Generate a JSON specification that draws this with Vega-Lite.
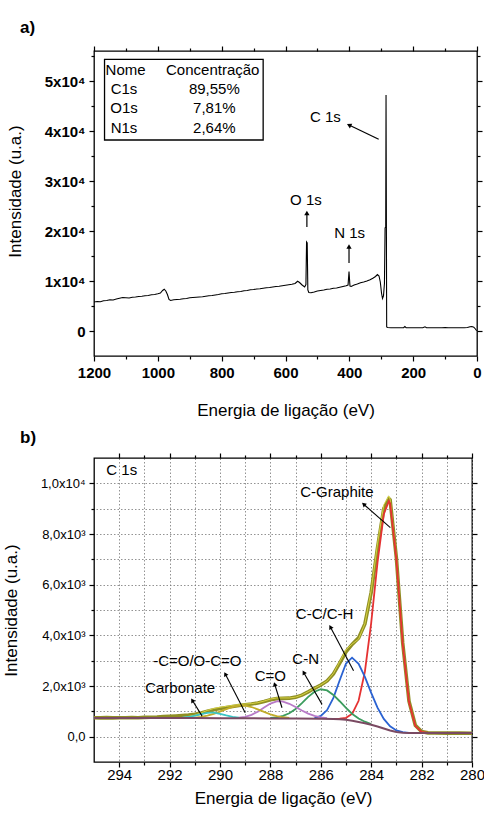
{
  "$schema": "https://vega.github.io/schema/vega-lite/v6.json",
  "padding": {"left": 1, "top": 18, "right": 0, "bottom": 0},
  "spacing": 9,
  "config": {
    "font": "Liberation Sans",
    "view": {"stroke": "black", "strokeWidth": 1.3},
    "axis": {"domain": false, "tickColor": "black", "labelColor": "black", "titleColor": "black", "tickWidth": 1.2, "labelPadding": 4, "titleFontWeight": "normal", "titleFontSize": 17, "grid": false},
    "title": {"fontSize": 17, "fontWeight": "bold", "anchor": "start", "color": "black"},
    "text": {"font": "Liberation Sans", "fontSize": 15, "color": "black"}
  },
  "datasets": {
    "survey": [
      {"E":1200,"I":5800},{"E":1190,"I":5900},{"E":1180,"I":5850},{"E":1170,"I":6050},{"E":1160,"I":6100},{"E":1150,"I":6250},{"E":1140,"I":6200},{"E":1130,"I":6400},{"E":1120,"I":6550},{"E":1110,"I":6700},{"E":1100,"I":6650},{"E":1090,"I":6600},{"E":1080,"I":6750},{"E":1070,"I":6800},{"E":1060,"I":6900},{"E":1050,"I":6950},{"E":1040,"I":7050},{"E":1030,"I":7100},{"E":1020,"I":7250},{"E":1010,"I":7300},{"E":1000,"I":7450},{"E":992,"I":7600},{"E":985,"I":8100},{"E":980,"I":8350},{"E":975,"I":8000},{"E":970,"I":7300},{"E":965,"I":6300},{"E":960,"I":6100},{"E":950,"I":6250},{"E":940,"I":6300},{"E":930,"I":6350},{"E":920,"I":6450},{"E":910,"I":6500},{"E":900,"I":6650},{"E":890,"I":6700},{"E":880,"I":6750},{"E":870,"I":6800},{"E":860,"I":6850},{"E":850,"I":6950},{"E":840,"I":7050},{"E":830,"I":7100},{"E":820,"I":7200},{"E":810,"I":7300},{"E":800,"I":7450},{"E":790,"I":7500},{"E":780,"I":7600},{"E":770,"I":7700},{"E":760,"I":7750},{"E":750,"I":7850},{"E":740,"I":7900},{"E":730,"I":8050},{"E":720,"I":8100},{"E":710,"I":8250},{"E":700,"I":8300},{"E":690,"I":8400},{"E":680,"I":8450},{"E":670,"I":8550},{"E":660,"I":8650},{"E":650,"I":8700},{"E":640,"I":8800},{"E":630,"I":8900},{"E":620,"I":8950},{"E":610,"I":9050},{"E":600,"I":9150},{"E":590,"I":9250},{"E":580,"I":9350},{"E":570,"I":9500},{"E":562,"I":9950},{"E":556,"I":9700},{"E":548,"I":9200},{"E":540,"I":8800},{"E":536,"I":9300},{"E":534,"I":17800},{"E":532,"I":17600},{"E":530,"I":8200},{"E":527,"I":7700},{"E":520,"I":7650},{"E":510,"I":7800},{"E":500,"I":8000},{"E":490,"I":8100},{"E":480,"I":8200},{"E":470,"I":8350},{"E":460,"I":8400},{"E":450,"I":8550},{"E":440,"I":8600},{"E":430,"I":8750},{"E":420,"I":8900},{"E":410,"I":9050},{"E":404,"I":9200},{"E":401,"I":11900},{"E":398,"I":9000},{"E":394,"I":8900},{"E":385,"I":9200},{"E":375,"I":9400},{"E":365,"I":9650},{"E":355,"I":9800},{"E":345,"I":10000},{"E":335,"I":10250},{"E":325,"I":10600},{"E":318,"I":10900},{"E":312,"I":11300},{"E":307,"I":11000},{"E":303,"I":9800},{"E":299,"I":7500},{"E":296,"I":6500},{"E":293,"I":7000},{"E":290,"I":9500},{"E":288,"I":20600},{"E":286,"I":20800},{"E":285,"I":47200},{"E":283,"I":800},{"E":280,"I":700},{"E":270,"I":650},{"E":260,"I":660},{"E":250,"I":640},{"E":240,"I":650},{"E":230,"I":660},{"E":226,"I":900},{"E":222,"I":660},{"E":210,"I":650},{"E":200,"I":650},{"E":190,"I":660},{"E":180,"I":650},{"E":170,"I":650},{"E":163,"I":850},{"E":158,"I":660},{"E":150,"I":650},{"E":140,"I":660},{"E":130,"I":650},{"E":120,"I":660},{"E":110,"I":650},{"E":100,"I":700},{"E":90,"I":660},{"E":80,"I":650},{"E":70,"I":660},{"E":60,"I":650},{"E":50,"I":660},{"E":40,"I":650},{"E":30,"I":700},{"E":22,"I":850},{"E":16,"I":900},{"E":10,"I":750},{"E":5,"I":400},{"E":1,"I":50}
    ],
    "tableBox": [{"E1": 1167, "E2": 670, "I1": 54340, "I2": 38200}],
    "tableText": [
      {"name": "Nome", "val": "Concentração", "En": 1101, "Ev": 828, "I": 52200},
      {"name": "C1s", "val": "89,55%", "En": 1106, "Ev": 823, "I": 48340},
      {"name": "O1s", "val": "7,81%", "En": 1106, "Ev": 823, "I": 44540},
      {"name": "N1s", "val": "2,64%", "En": 1106, "Ev": 823, "I": 40540}
    ],
    "labelsA": [
      {"text": "C 1s", "E": 475, "I": 42860},
      {"text": "O 1s", "E": 536, "I": 26200},
      {"text": "N 1s", "E": 399, "I": 19540}
    ],
    "arrowsA": [
      {"E1": 308, "I1": 38340, "E2": 401, "I2": 41200, "angle": 296},
      {"E1": 533, "I1": 20800, "E2": 533, "I2": 23600, "angle": 0},
      {"E1": 401, "I1": 13600, "E2": 401, "I2": 16900, "angle": 0}
    ],
    "xps": [
      {"comp":"Exp","E":295,"I":745},{"comp":"Exp","E":294.75,"I":740},{"comp":"Exp","E":294.5,"I":750},{"comp":"Exp","E":294.25,"I":742},{"comp":"Exp","E":294,"I":748},{"comp":"Exp","E":293.75,"I":745},{"comp":"Exp","E":293.5,"I":752},{"comp":"Exp","E":293.25,"I":748},{"comp":"Exp","E":293,"I":760},{"comp":"Exp","E":292.75,"I":768},{"comp":"Exp","E":292.5,"I":775},{"comp":"Exp","E":292.25,"I":790},{"comp":"Exp","E":292,"I":800},{"comp":"Exp","E":291.75,"I":815},{"comp":"Exp","E":291.5,"I":830},{"comp":"Exp","E":291.25,"I":850},{"comp":"Exp","E":291,"I":880},{"comp":"Exp","E":290.75,"I":930},{"comp":"Exp","E":290.5,"I":1000},{"comp":"Exp","E":290.25,"I":1060},{"comp":"Exp","E":290,"I":1110},{"comp":"Exp","E":289.75,"I":1150},{"comp":"Exp","E":289.5,"I":1190},{"comp":"Exp","E":289.25,"I":1230},{"comp":"Exp","E":289,"I":1260},{"comp":"Exp","E":288.75,"I":1290},{"comp":"Exp","E":288.5,"I":1330},{"comp":"Exp","E":288.25,"I":1390},{"comp":"Exp","E":288,"I":1460},{"comp":"Exp","E":287.75,"I":1500},{"comp":"Exp","E":287.5,"I":1510},{"comp":"Exp","E":287.25,"I":1520},{"comp":"Exp","E":287,"I":1560},{"comp":"Exp","E":286.75,"I":1640},{"comp":"Exp","E":286.5,"I":1770},{"comp":"Exp","E":286.25,"I":1910},{"comp":"Exp","E":286,"I":2040},{"comp":"Exp","E":285.75,"I":2200},{"comp":"Exp","E":285.5,"I":2480},{"comp":"Exp","E":285.25,"I":2900},{"comp":"Exp","E":285,"I":3350},{"comp":"Exp","E":284.75,"I":3650},{"comp":"Exp","E":284.5,"I":3900},{"comp":"Exp","E":284.25,"I":4450},{"comp":"Exp","E":284,"I":5700},{"comp":"Exp","E":283.75,"I":7450},{"comp":"Exp","E":283.5,"I":9000},{"comp":"Exp","E":283.3,"I":9400},{"comp":"Exp","E":283.25,"I":9350},{"comp":"Exp","E":283,"I":7050},{"comp":"Exp","E":282.75,"I":3700},{"comp":"Exp","E":282.5,"I":1400},{"comp":"Exp","E":282.25,"I":450},{"comp":"Exp","E":282,"I":200},{"comp":"Exp","E":281.75,"I":150},{"comp":"Exp","E":281.5,"I":145},{"comp":"Exp","E":281,"I":140},{"comp":"Exp","E":280.5,"I":140},{"comp":"Exp","E":280,"I":135},
      {"comp":"Fit","E":295,"I":740},{"comp":"Fit","E":294,"I":738},{"comp":"Fit","E":293,"I":736},{"comp":"Fit","E":292,"I":735},{"comp":"Fit","E":291.5,"I":752},{"comp":"Fit","E":291,"I":849},{"comp":"Fit","E":290.75,"I":940},{"comp":"Fit","E":290.5,"I":1036},{"comp":"Fit","E":290.25,"I":1112},{"comp":"Fit","E":290,"I":1160},{"comp":"Fit","E":289.75,"I":1195},{"comp":"Fit","E":289.5,"I":1234},{"comp":"Fit","E":289.25,"I":1266},{"comp":"Fit","E":289,"I":1290},{"comp":"Fit","E":288.75,"I":1305},{"comp":"Fit","E":288.5,"I":1341},{"comp":"Fit","E":288.25,"I":1406},{"comp":"Fit","E":288,"I":1485},{"comp":"Fit","E":287.75,"I":1530},{"comp":"Fit","E":287.5,"I":1530},{"comp":"Fit","E":287.25,"I":1528},{"comp":"Fit","E":287,"I":1561},{"comp":"Fit","E":286.75,"I":1645},{"comp":"Fit","E":286.5,"I":1776},{"comp":"Fit","E":286.25,"I":1916},{"comp":"Fit","E":286,"I":2044},{"comp":"Fit","E":285.75,"I":2201},{"comp":"Fit","E":285.5,"I":2494},{"comp":"Fit","E":285.25,"I":2956},{"comp":"Fit","E":285,"I":3431},{"comp":"Fit","E":284.75,"I":3664},{"comp":"Fit","E":284.5,"I":3852},{"comp":"Fit","E":284.25,"I":4458},{"comp":"Fit","E":284,"I":5774},{"comp":"Fit","E":283.75,"I":7611},{"comp":"Fit","E":283.5,"I":9160},{"comp":"Fit","E":283.3,"I":9500},{"comp":"Fit","E":283.25,"I":9382},{"comp":"Fit","E":283,"I":7073},{"comp":"Fit","E":282.75,"I":3689},{"comp":"Fit","E":282.5,"I":1373},{"comp":"Fit","E":282.25,"I":430},{"comp":"Fit","E":282,"I":186},{"comp":"Fit","E":281.75,"I":145},{"comp":"Fit","E":281,"I":140},{"comp":"Fit","E":280,"I":140},
      {"comp":"C-Graphite","E":285.5,"I":700},{"comp":"C-Graphite","E":285.25,"I":707},{"comp":"C-Graphite","E":285,"I":746},{"comp":"C-Graphite","E":284.75,"I":905},{"comp":"C-Graphite","E":284.5,"I":1417},{"comp":"C-Graphite","E":284.25,"I":2567},{"comp":"C-Graphite","E":284,"I":4493},{"comp":"C-Graphite","E":283.75,"I":6866},{"comp":"C-Graphite","E":283.5,"I":8780},{"comp":"C-Graphite","E":283.3,"I":9300},{"comp":"C-Graphite","E":283.25,"I":9215},{"comp":"C-Graphite","E":283,"I":7010},{"comp":"C-Graphite","E":282.75,"I":3668},{"comp":"C-Graphite","E":282.5,"I":1368},{"comp":"C-Graphite","E":282.25,"I":430},{"comp":"C-Graphite","E":282,"I":186},{"comp":"C-Graphite","E":281.75,"I":145},{"comp":"C-Graphite","E":281.5,"I":140},
      {"comp":"C-C/C-H","E":286.25,"I":732},{"comp":"C-C/C-H","E":286,"I":820},{"comp":"C-C/C-H","E":285.75,"I":1051},{"comp":"C-C/C-H","E":285.5,"I":1530},{"comp":"C-C/C-H","E":285.25,"I":2229},{"comp":"C-C/C-H","E":285,"I":2889},{"comp":"C-C/C-H","E":284.76,"I":3117},{"comp":"C-C/C-H","E":284.5,"I":2878},{"comp":"C-C/C-H","E":284.25,"I":2360},{"comp":"C-C/C-H","E":284,"I":1727},{"comp":"C-C/C-H","E":283.75,"I":1145},{"comp":"C-C/C-H","E":283.5,"I":700},{"comp":"C-C/C-H","E":283.25,"I":412},{"comp":"C-C/C-H","E":283,"I":248},{"comp":"C-C/C-H","E":282.75,"I":176},{"comp":"C-C/C-H","E":282.5,"I":150},
      {"comp":"C-N","E":288,"I":738},{"comp":"C-N","E":287.75,"I":763},{"comp":"C-N","E":287.5,"I":819},{"comp":"C-N","E":287.25,"I":925},{"comp":"C-N","E":287,"I":1095},{"comp":"C-N","E":286.75,"I":1321},{"comp":"C-N","E":286.5,"I":1569},{"comp":"C-N","E":286.25,"I":1774},{"comp":"C-N","E":286,"I":1872},{"comp":"C-N","E":285.75,"I":1824},{"comp":"C-N","E":285.5,"I":1648},{"comp":"C-N","E":285.25,"I":1398},{"comp":"C-N","E":285,"I":1136},{"comp":"C-N","E":284.75,"I":894},{"comp":"C-N","E":284.5,"I":717},{"comp":"C-N","E":284.25,"I":591},{"comp":"C-N","E":284,"I":494},
      {"comp":"C=O","E":289.25,"I":747},{"comp":"C=O","E":289,"I":785},{"comp":"C=O","E":288.75,"I":861},{"comp":"C=O","E":288.5,"I":986},{"comp":"C=O","E":288.25,"I":1149},{"comp":"C=O","E":288,"I":1307},{"comp":"C=O","E":287.75,"I":1394},{"comp":"C=O","E":287.67,"I":1400},{"comp":"C=O","E":287.5,"I":1381},{"comp":"C=O","E":287.25,"I":1297},{"comp":"C=O","E":287,"I":1171},{"comp":"C=O","E":286.75,"I":1033},{"comp":"C=O","E":286.5,"I":911},{"comp":"C=O","E":286.25,"I":820},{"comp":"C=O","E":286,"I":762},{"comp":"C=O","E":285.75,"I":727},
      {"comp":"-C=O/O-C=O","E":291,"I":755},{"comp":"-C=O/O-C=O","E":290.75,"I":780},{"comp":"-C=O/O-C=O","E":290.5,"I":826},{"comp":"-C=O/O-C=O","E":290.25,"I":896},{"comp":"-C=O/O-C=O","E":290,"I":988},{"comp":"-C=O/O-C=O","E":289.75,"I":1088},{"comp":"-C=O/O-C=O","E":289.5,"I":1175},{"comp":"-C=O/O-C=O","E":289.25,"I":1225},{"comp":"-C=O/O-C=O","E":289.13,"I":1232},{"comp":"-C=O/O-C=O","E":289,"I":1224},{"comp":"-C=O/O-C=O","E":288.75,"I":1170},{"comp":"-C=O/O-C=O","E":288.5,"I":1080},{"comp":"-C=O/O-C=O","E":288.25,"I":977},{"comp":"-C=O/O-C=O","E":288,"I":884},{"comp":"-C=O/O-C=O","E":287.75,"I":813},{"comp":"-C=O/O-C=O","E":287.5,"I":766},{"comp":"-C=O/O-C=O","E":287.25,"I":738},
      {"comp":"Carbonate","E":291.5,"I":749},{"comp":"Carbonate","E":291.25,"I":776},{"comp":"Carbonate","E":291,"I":826},{"comp":"Carbonate","E":290.75,"I":891},{"comp":"Carbonate","E":290.5,"I":941},{"comp":"Carbonate","E":290.35,"I":951},{"comp":"Carbonate","E":290.25,"I":946},{"comp":"Carbonate","E":290,"I":902},{"comp":"Carbonate","E":289.75,"I":836},{"comp":"Carbonate","E":289.5,"I":780},{"comp":"Carbonate","E":289.25,"I":747},
      {"comp":"Background","E":295,"I":740},{"comp":"Background","E":294,"I":738},{"comp":"Background","E":293,"I":736},{"comp":"Background","E":292,"I":734},{"comp":"Background","E":291,"I":732},{"comp":"Background","E":290,"I":730},{"comp":"Background","E":289,"I":727},{"comp":"Background","E":288,"I":722},{"comp":"Background","E":287,"I":715},{"comp":"Background","E":286,"I":705},{"comp":"Background","E":285.5,"I":697},{"comp":"Background","E":285.25,"I":688},{"comp":"Background","E":285,"I":670},{"comp":"Background","E":284.75,"I":625},{"comp":"Background","E":284.5,"I":580},{"comp":"Background","E":284.25,"I":530},{"comp":"Background","E":284,"I":470},{"comp":"Background","E":283.75,"I":400},{"comp":"Background","E":283.5,"I":320},{"comp":"Background","E":283.25,"I":245},{"comp":"Background","E":283,"I":185},{"comp":"Background","E":282.75,"I":155},{"comp":"Background","E":282.5,"I":145},{"comp":"Background","E":282,"I":140},{"comp":"Background","E":281,"I":140},{"comp":"Background","E":280,"I":140}
    ],
    "labelsB": [
      {"text": "C 1s", "E": 293.9, "I": 10530},
      {"text": "C-Graphite", "E": 285.36, "I": 9640},
      {"text": "C-C/C-H", "E": 285.85, "I": 4860},
      {"text": "C-N", "E": 286.6, "I": 3070},
      {"text": "C=O", "E": 288.0, "I": 2400},
      {"text": "-C=O/O-C=O", "E": 290.9, "I": 3000},
      {"text": "Carbonate", "E": 291.58, "I": 1935}
    ],
    "arrowsB": [
      {"E1": 283.24, "I1": 8250, "E2": 284.3, "I2": 9175, "angle": 311},
      {"E1": 284.7, "I1": 2600, "E2": 285.62, "I2": 4330, "angle": 331.6},
      {"E1": 285.95, "I1": 1275, "E2": 286.68, "I2": 2535, "angle": 330},
      {"E1": 287.54, "I1": 1140, "E2": 287.83, "I2": 2070, "angle": 342.7},
      {"E1": 289.0, "I1": 940, "E2": 289.79, "I2": 2470, "angle": 332.5},
      {"E1": 290.71, "I1": 810, "E2": 291.1, "I2": 1435, "angle": 327.5}
    ]
  },
  "vconcat": [
    {
      "title": {"text": "a)", "frame": "group", "dx": -74, "offset": 8},
      "width": 383,
      "height": 305,
      "resolve": {"axis": {"x": "independent", "y": "independent"}},
      "layer": [
        {
          "data": {"name": "survey"},
          "mark": {"type": "line", "color": "black", "strokeWidth": 1.1},
          "encoding": {
            "x": {"field": "E", "type": "quantitative",
              "scale": {"domain": [0, 1200], "reverse": true, "nice": false, "zero": false},
              "axis": {"orient": "bottom", "title": "Energia de ligação (eV)", "values": [0,100,200,300,400,500,600,700,800,900,1000,1100,1200], "format": "d",
                "labelExpr": "datum.value % 200 === 0 ? datum.label : ''",
                "tickSize": {"condition": {"test": "datum.value % 200 === 0", "value": 5}, "value": 3},
                "labelFontSize": 15, "labelFontWeight": "bold", "labelFlush": false, "titlePadding": 22}},
            "y": {"field": "I", "type": "quantitative",
              "scale": {"domain": [-5000, 56000], "nice": false, "zero": false},
              "axis": {"orient": "left", "title": "Intensidade (u.a.)", "values": [0,5000,10000,15000,20000,25000,30000,35000,40000,45000,50000,55000],
                "labelExpr": "datum.value % 10000 === 0 ? (datum.value === 0 ? '0' : format(datum.value / 10000, 'd') + 'x10⁴') : ''",
                "tickSize": {"condition": {"test": "datum.value % 10000 === 0", "value": 5}, "value": 3},
                "labelFontSize": 15, "labelFontWeight": "bold", "titlePadding": 20, "titleY": 140}}
          }
        },
        {
          "data": {"name": "tableBox"},
          "mark": {"type": "rect", "fill": "white", "stroke": "black", "strokeWidth": 1.3},
          "encoding": {
            "x": {"field": "E1", "type": "quantitative",
              "axis": {"orient": "top", "title": null, "labels": false, "values": [0,100,200,300,400,500,600,700,800,900,1000,1100,1200],
                "tickSize": {"condition": {"test": "datum.value % 200 === 0", "value": 5}, "value": 3}}},
            "x2": {"field": "E2"},
            "y": {"field": "I1", "type": "quantitative",
              "axis": {"orient": "right", "title": null, "labels": false, "values": [0,5000,10000,15000,20000,25000,30000,35000,40000,45000,50000,55000],
                "tickSize": {"condition": {"test": "datum.value % 10000 === 0", "value": 5}, "value": 3}}},
            "y2": {"field": "I2"}
          }
        },
        {
          "data": {"name": "tableText"},
          "mark": {"type": "text", "align": "center", "baseline": "middle"},
          "encoding": {
            "x": {"field": "En", "type": "quantitative", "axis": null},
            "y": {"field": "I", "type": "quantitative", "axis": null},
            "text": {"field": "name"}
          }
        },
        {
          "data": {"name": "tableText"},
          "mark": {"type": "text", "align": "center", "baseline": "middle"},
          "encoding": {
            "x": {"field": "Ev", "type": "quantitative", "axis": null},
            "y": {"field": "I", "type": "quantitative", "axis": null},
            "text": {"field": "val"}
          }
        },
        {
          "data": {"name": "labelsA"},
          "mark": {"type": "text", "align": "center", "baseline": "middle"},
          "encoding": {
            "x": {"field": "E", "type": "quantitative", "axis": null},
            "y": {"field": "I", "type": "quantitative", "axis": null},
            "text": {"field": "text"}
          }
        },
        {
          "data": {"name": "arrowsA"},
          "mark": {"type": "rule", "color": "black", "strokeWidth": 1.2},
          "encoding": {
            "x": {"field": "E1", "type": "quantitative", "axis": null},
            "y": {"field": "I1", "type": "quantitative", "axis": null},
            "x2": {"field": "E2"},
            "y2": {"field": "I2"}
          }
        },
        {
          "data": {"name": "arrowsA"},
          "mark": {"type": "point", "shape": "triangle-up", "filled": true, "color": "black", "opacity": 1, "size": 28},
          "encoding": {
            "x": {"field": "E2", "type": "quantitative", "axis": null},
            "y": {"field": "I2", "type": "quantitative", "axis": null},
            "angle": {"field": "angle", "type": "quantitative", "scale": null}
          }
        }
      ]
    },
    {
      "title": {"text": "b)", "frame": "group", "dx": -74, "offset": 5},
      "width": 378,
      "height": 304,
      "resolve": {"axis": {"x": "independent", "y": "independent"}},
      "layer": [
        {
          "data": {"name": "xps"},
          "transform": [{"filter": "datum.comp === 'Exp'"}],
          "mark": {"type": "line", "color": "#8f8f24", "strokeWidth": 3.6},
          "encoding": {
            "x": {"field": "E", "type": "quantitative",
              "scale": {"domain": [280, 295], "reverse": true, "nice": false, "zero": false},
              "axis": {"orient": "bottom", "title": "Energia de ligação (eV)", "values": [280,281,282,283,284,285,286,287,288,289,290,291,292,293,294], "format": "d",
                "labelExpr": "datum.value % 2 === 0 ? datum.label : ''",
                "tickSize": {"condition": {"test": "datum.value % 2 === 0", "value": 5}, "value": 3},
                "labelFontSize": 15, "labelFlush": false, "labelPadding": 0, "titlePadding": 8,
                "grid": true, "gridDash": [1.5, 2], "gridColor": "#777", "gridWidth": 0.8}},
            "y": {"field": "I", "type": "quantitative",
              "scale": {"domain": [-1000, 11000], "nice": false, "zero": false},
              "axis": {"orient": "left", "title": "Intensidade (u.a.)", "values": [0,1000,2000,3000,4000,5000,6000,7000,8000,9000,10000],
                "labelExpr": "datum.value % 2000 === 0 ? (datum.value === 0 ? '0,0' : (datum.value >= 10000 ? replace(format(datum.value / 10000, '.1f'), '.', ',') + 'x10⁴' : replace(format(datum.value / 1000, '.1f'), '.', ',') + 'x10³')) : ''",
                "tickSize": {"condition": {"test": "datum.value % 2000 === 0", "value": 5}, "value": 3},
                "labelFontSize": 13, "titlePadding": 20,
                "grid": true, "gridDash": [1.5, 2], "gridColor": "#777", "gridWidth": 0.8}}
          }
        },
        {
          "data": {"name": "xps"},
          "transform": [{"filter": "datum.comp === 'Fit'"}],
          "mark": {"type": "line", "color": "#e8e24a", "strokeWidth": 1, "opacity": 0.8},
          "encoding": {
            "x": {"field": "E", "type": "quantitative", "axis": null},
            "y": {"field": "I", "type": "quantitative", "axis": null}
          }
        },
        {
          "data": {"name": "xps"},
          "transform": [{"filter": "datum.comp !== 'Exp' && datum.comp !== 'Fit' && datum.comp !== 'Background'"}],
          "mark": {"type": "line", "strokeWidth": 1.8},
          "encoding": {
            "x": {"field": "E", "type": "quantitative", "axis": null},
            "y": {"field": "I", "type": "quantitative", "axis": null},
            "color": {"field": "comp", "type": "nominal", "legend": null,
              "scale": {"domain": ["C-Graphite", "C-C/C-H", "C-N", "C=O", "-C=O/O-C=O", "Carbonate"],
                        "range": ["#e53232", "#2a62d2", "#3c9c5e", "#b87ac8", "#c2ad2a", "#3cc4c4"]}}
          }
        },
        {
          "data": {"name": "xps"},
          "transform": [{"filter": "datum.comp === 'Background'"}],
          "mark": {"type": "line", "color": "#7a4a62", "strokeWidth": 2},
          "encoding": {
            "x": {"field": "E", "type": "quantitative", "axis": null},
            "y": {"field": "I", "type": "quantitative", "axis": null}
          }
        },
        {
          "data": {"name": "labelsB"},
          "mark": {"type": "text", "align": "center", "baseline": "middle"},
          "encoding": {
            "x": {"field": "E", "type": "quantitative",
              "axis": {"orient": "top", "title": null, "labels": false, "values": [280,281,282,283,284,285,286,287,288,289,290,291,292,293,294],
                "tickSize": {"condition": {"test": "datum.value % 2 === 0", "value": 5}, "value": 3}}},
            "y": {"field": "I", "type": "quantitative",
              "axis": {"orient": "right", "title": null, "labels": false, "values": [0,1000,2000,3000,4000,5000,6000,7000,8000,9000,10000],
                "tickSize": {"condition": {"test": "datum.value % 2000 === 0", "value": 5}, "value": 3}}},
            "text": {"field": "text"}
          }
        },
        {
          "data": {"name": "arrowsB"},
          "mark": {"type": "rule", "color": "black", "strokeWidth": 1.1},
          "encoding": {
            "x": {"field": "E1", "type": "quantitative", "axis": null},
            "y": {"field": "I1", "type": "quantitative", "axis": null},
            "x2": {"field": "E2"},
            "y2": {"field": "I2"}
          }
        },
        {
          "data": {"name": "arrowsB"},
          "mark": {"type": "point", "shape": "triangle-up", "filled": true, "color": "black", "opacity": 1, "size": 24},
          "encoding": {
            "x": {"field": "E2", "type": "quantitative", "axis": null},
            "y": {"field": "I2", "type": "quantitative", "axis": null},
            "angle": {"field": "angle", "type": "quantitative", "scale": null}
          }
        }
      ]
    }
  ]
}
